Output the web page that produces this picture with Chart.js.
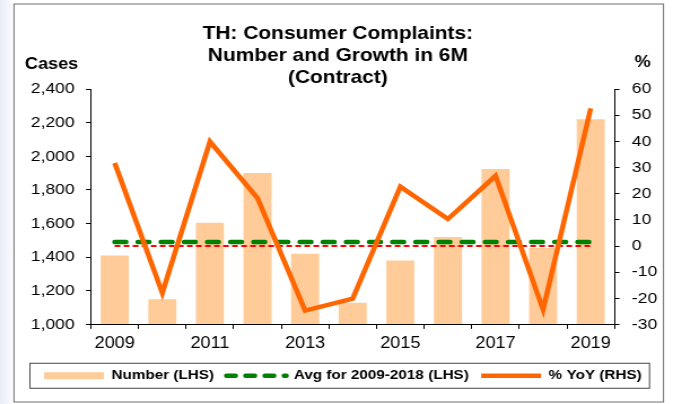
<!DOCTYPE html>
<html>
<head>
<meta charset="utf-8">
<script src="https://cdn.jsdelivr.net/npm/chart.js@4/dist/chart.umd.min.js"></script>
<style>
  html, body { margin: 0; padding: 0; background: #fff; overflow: hidden; }
  body { width: 673px; height: 404px; position: relative;
         background: linear-gradient(to right, #e9ecf6 0px, #f6f7fb 10px, #fff 14px); }
  #myChart { position: absolute; left: 0; top: 0; transform: scaleX(1.1292); transform-origin: 0 0; }
</style>
</head>
<body>
<canvas id="myChart" width="596" height="404"></canvas>
<script>
// values
const years = ['2009', '2010', '2011', '2012', '2013', '2014', '2015', '2016', '2017', '2018', '2019'];
const complaints = [1410, 1150, 1605, 1900, 1420, 1130, 1380, 1520, 1925, 1455, 2220];
const avg2009to2018 = [1490, 1490, 1490, 1490, 1490, 1490, 1490, 1490, 1490, 1490, 1490];
const yoyPct = [31.7, -17.9, 39.9, 18.3, -24.7, -20.1, 22.7, 10.3, 26.8, -24.3, 52.6];
const zeroLine = [0, 0, 0, 0, 0, 0, 0, 0, 0, 0, 0];
const titleLines = ['TH: Consumer Complaints:', 'Number and Growth in 6M', '(Contract)'];
const leftRange = {min: 1000, max: 2400, step: 200};
const rightRange = {min: -30, max: 60, step: 10};

const ctx = document.getElementById('myChart').getContext('2d');
Chart.defaults.font.family = "'Liberation Sans', Arial, sans-serif";
Chart.defaults.color = '#000';

// frame, unit labels and legend border
const decor = {
    id: 'decor',
    afterLayout(chart) {
        // nudge the legend row a little to the right, like the original
        chart.legend.left += 4.4;
        chart.legend.right += 4.4;
    },
    beforeDraw(chart) {
        const c = chart.ctx;
        c.save();
        c.fillStyle = '#fff';
        c.fillRect(12.4, 4, 575.2, 398);
        c.strokeStyle = '#6e6e6e';
        c.lineWidth = 1;
        c.strokeRect(12.4, 4, 575.2, 398);
        c.restore();
    },
    afterDraw(chart) {
        const c = chart.ctx;
        c.save();
        c.fillStyle = '#000';
        c.font = "bold 16px 'Liberation Sans', Arial";
        c.textBaseline = 'middle';
        c.textAlign = 'left';
        c.fillText('Cases', 22.1, 65);
        c.fillText('%', 562, 63);
        const hb = chart.legend.legendHitBoxes[0];
        const cy = hb.top + hb.height / 2;
        c.strokeStyle = '#444';
        c.lineWidth = 1;
        c.strokeRect(26.5, cy - 12.5, 548.7, 25);
        c.restore();
    }
};

const config = {
    type: 'bar',
    data: {
        labels: years,
        datasets: [
            {
                label: 'Number (LHS)',
                type: 'bar',
                data: complaints,
                yAxisID: 'y',
                backgroundColor: '#ffcc99',
                base: 1000,
                barPercentage: 0.59,
                categoryPercentage: 1,
                order: 3,
            },
            {
                label: 'Avg for 2009-2018 (LHS)',
                type: 'line',
                data: avg2009to2018,
                yAxisID: 'y',
                borderColor: '#008000',
                borderWidth: 4.5,
                borderDash: [10, 10.5],
                borderCapStyle: 'round',
                pointRadius: 0,
                order: 1,
            },
            {
                label: '% YoY (RHS)',
                type: 'line',
                data: yoyPct,
                yAxisID: 'y1',
                borderColor: '#ff6600',
                borderWidth: 4.5,
                pointRadius: 0,
                tension: 0,
                order: 0,
            },
            {
                label: 'zero',
                type: 'line',
                data: zeroLine,
                yAxisID: 'y1',
                borderColor: '#ff0000',
                borderWidth: 2,
                borderDash: [5, 3],
                pointRadius: 0,
                order: 2,
            }
        ]
    },
    options: {
        responsive: false,
        animation: false,
        layout: {
            padding: {left: 12.4, right: 10, top: 22.4, bottom: 11.5}
        },
        plugins: {
            tooltip: {enabled: false},
            title: {
                display: true,
                text: titleLines,
                font: {size: 18.5, weight: 'bold', lineHeight: 1.2},
                color: '#000',
                padding: {top: 0, bottom: 0},
            },
            legend: {
                position: 'bottom',
                labels: {
                    usePointStyle: true,
                    pointStyleWidth: 53,
                    padding: 11,
                    font: {size: 13.5, weight: 'bold'},
                    color: '#000',
                    filter: (item) => item.text !== 'zero',
                    sort: (a, b) => a.datasetIndex - b.datasetIndex,
                    generateLabels(chart) {
                        return chart.data.datasets.map((ds, i) => {
                            const isBar = ds.type === 'bar';
                            return {
                                text: ds.label,
                                datasetIndex: i,
                                pointStyle: 'line',
                                fillStyle: isBar ? ds.backgroundColor : ds.borderColor,
                                strokeStyle: isBar ? ds.backgroundColor : ds.borderColor,
                                lineWidth: isBar ? 7 : ds.borderWidth,
                                lineDash: ds.borderDash ? [8, 9] : [],
                                lineCap: ds.borderCapStyle || 'butt',
                                fontColor: '#000',
                                hidden: false,
                            };
                        });
                    }
                }
            }
        },
        scales: {
            x: {
                offset: true,
                grid: {offset: true, drawOnChartArea: false, drawTicks: true, tickLength: 4.4, color: '#000'},
                border: {color: '#000'},
                ticks: {
                    font: {size: 16},
                    padding: 5,
                    maxRotation: 0,
                    autoSkip: false,
                    callback: function (value, index) {
                        return index % 2 === 0 ? this.getLabelForValue(value) : '';
                    }
                },
                afterFit: (scale) => { scale.height = 33.5; }
            },
            y: {
                position: 'left',
                min: leftRange.min,
                max: leftRange.max,
                grid: {drawOnChartArea: false, drawTicks: true, tickLength: 4.4, color: '#000'},
                border: {color: '#000'},
                ticks: {stepSize: leftRange.step, font: {size: 15.5}, padding: 10},
                afterFit: (scale) => { scale.width = 68.1; }
            },
            y1: {
                position: 'right',
                min: rightRange.min,
                max: rightRange.max,
                grid: {drawOnChartArea: false, drawTicks: true, tickLength: 4.4, color: '#000'},
                border: {color: '#000'},
                ticks: {stepSize: rightRange.step, font: {size: 15.5}, padding: 11},
                afterFit: (scale) => { scale.width = 41.8; }
            }
        }
    },
    plugins: [decor]
};

const comboChart = new Chart(ctx, config);
</script>
</body>
</html>
